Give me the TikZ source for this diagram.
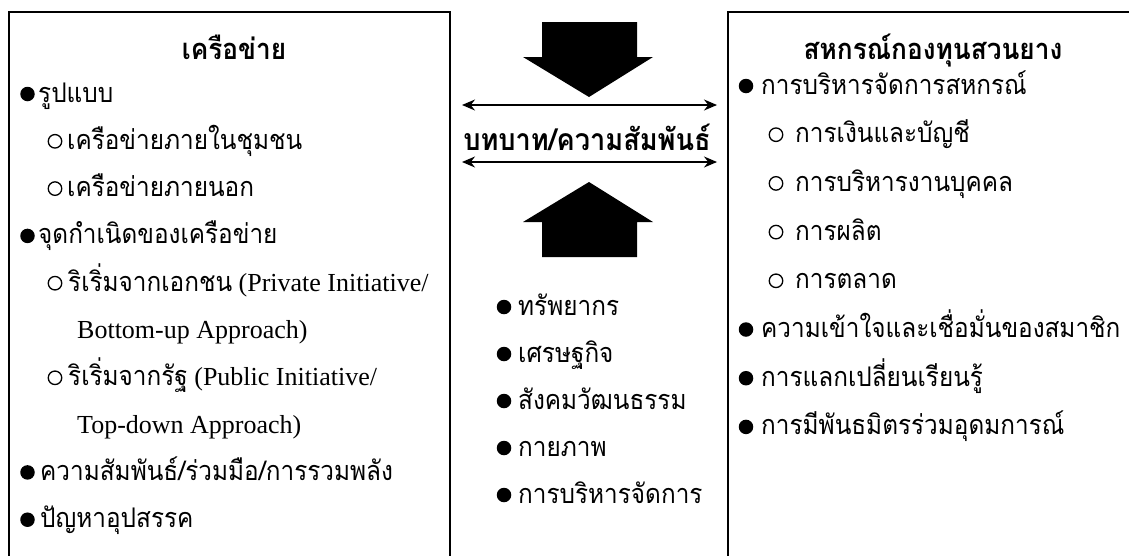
\documentclass[tikz,border=0pt]{standalone}
\usepackage{fontspec}
\setmainfont{Liberation Serif}
\newfontfamily\thai[Script=Thai, Scale=1.04, FakeStretch=0.9]{Loma}
\usetikzlibrary{arrows.meta}
\tikzset{
  item/.style={anchor=base west, inner sep=0pt, font=\fontsize{26}{30}\selectfont},
  ttl/.style={anchor=base, inner sep=0pt, font=\thai\bfseries\fontsize{28}{30}\selectfont},
  dot/.style={circle, fill=black, minimum size=14.5pt, inner sep=0pt},
  ring/.style={circle, draw=black, line width=1.3pt, minimum size=13.5pt, inner sep=0pt},
  box/.style={line width=2.6pt},
  blk/.style={fill=black},
  dbl/.style={{Stealth[length=13pt,width=11pt]}-{Stealth[length=13pt,width=11pt]}, line width=1.3pt}
}
\begin{document}
\begin{tikzpicture}[x=1pt,y=-1pt]
\useasboundingbox (0,0) rectangle (1129,555);
\clip (0,0) rectangle (1129,555);
% boxes
\draw[box] (9,580) -- (9,12) -- (450,12) -- (450,580);
\draw[box] (728,580) -- (728,12) -- (1140,12);
% left box
\node[ttl] (lt) at (234,59) {เครือข่าย};
\node[dot] (lb0) at (27.5,94) {};  \node[item] (l0) at (38,102) {\thai รูปแบบ};
\node[ring] (lr1) at (55,141.3) {}; \node[item] (l1) at (67,149.3) {\thai เครือข่ายภายในชุมชน};
\node[ring] (lr2) at (55,188.6) {}; \node[item] (l2) at (67,196.6) {\thai เครือข่ายภายนอก};
\node[dot] (lb3) at (27.5,235.9) {}; \node[item] (l3) at (38,243.9) {\thai จุดกำเนิดของเครือข่าย};
\node[ring] (lr4) at (55,283.2) {}; \node[item] (l4) at (68,291.2) {{\thai ริเริ่มจากเอกชน} (Private Initiative/};
\node[item] (l5) at (77,338.5) {Bottom-up Approach)};
\node[ring] (lr6) at (55,377.8) {}; \node[item] (l6) at (68,385.8) {{\thai ริเริ่มจากรัฐ} (Public Initiative/};
\node[item] (l7) at (77,433.1) {Top-down Approach)};
\node[dot] (lb8) at (27.5,472.4) {}; \node[item] (l8) at (40,480.4) {\thai ความสัมพันธ์/ร่วมมือ/การรวมพลัง};
\node[dot] (lb9) at (27.5,519.7) {}; \node[item] (l9) at (40,527.7) {\thai ปัญหาอุปสรรค};
% middle
\node[ttl, font=\thai\bfseries\fontsize{29}{30}\selectfont] (mt) at (587,150) {บทบาท/ความสัมพันธ์};
\coordinate (a1l) at (462,105); \coordinate (a1r) at (717,105);
\coordinate (a2l) at (462,162); \coordinate (a2r) at (717,162);
\draw[dbl] (a1l) -- (a1r);
\draw[dbl] (a2l) -- (a2r);
\fill[blk] (542,22) -- (637,22) -- (637,57) -- (653,57) -- (589,97) -- (523,57) -- (542,57) -- cycle;
\fill[blk] (542,257) -- (637,257) -- (637,222) -- (653,222) -- (589,182) -- (523,222) -- (542,222) -- cycle;
\node[dot] (mb0) at (504,307) {}; \node[item] (m0) at (518,315) {\thai ทรัพยากร};
\node[dot] (mb1) at (504,354) {}; \node[item] (m1) at (518,362) {\thai เศรษฐกิจ};
\node[dot] (mb2) at (504,401) {}; \node[item] (m2) at (518,409) {\thai สังคมวัฒนธรรม};
\node[dot] (mb3) at (504,448) {}; \node[item] (m3) at (518,456) {\thai กายภาพ};
\node[dot] (mb4) at (504,495) {}; \node[item] (m4) at (518,503) {\thai การบริหารจัดการ};
% right box
\node[ttl] (rt) at (933,59) {สหกรณ์กองทุนสวนยาง};
\node[dot] (rb0) at (746,86) {}; \node[item] (r0) at (761,94) {\thai การบริหารจัดการสหกรณ์};
\node[ring] (rr1) at (776,134.7) {}; \node[item] (r1) at (795,142.7) {\thai การเงินและบัญชี};
\node[ring] (rr2) at (776,183.4) {}; \node[item] (r2) at (795,191.4) {\thai การบริหารงานบุคคล};
\node[ring] (rr3) at (776,232.1) {}; \node[item] (r3) at (795,240.1) {\thai การผลิต};
\node[ring] (rr4) at (776,280.8) {}; \node[item] (r4) at (795,288.8) {\thai การตลาด};
\node[dot] (rb5) at (746,329.5) {}; \node[item] (r5) at (761,337.5) {\thai ความเข้าใจและเชื่อมั่นของสมาชิก};
\node[dot] (rb6) at (746,378.2) {}; \node[item] (r6) at (761,386.2) {\thai การแลกเปลี่ยนเรียนรู้};
\node[dot] (rb7) at (746,426.9) {}; \node[item] (r7) at (761,434.9) {\thai การมีพันธมิตรร่วมอุดมการณ์};
\end{tikzpicture}
\end{document}
